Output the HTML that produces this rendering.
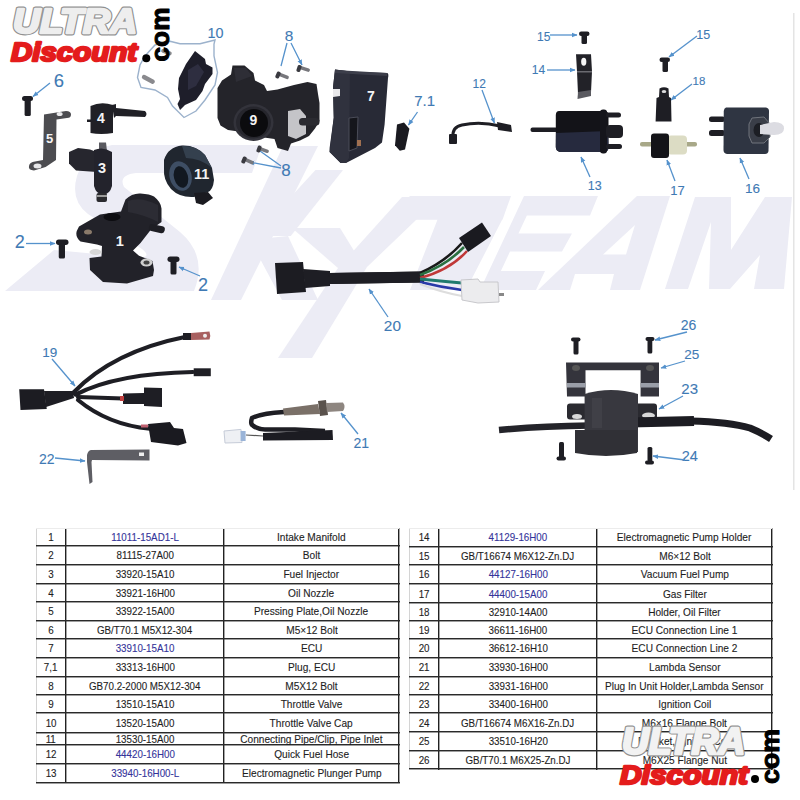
<!DOCTYPE html>
<html><head><meta charset="utf-8"><style>
html,body{margin:0;padding:0;background:#fff;width:800px;height:800px;overflow:hidden}
body{position:relative;font-family:"Liberation Sans",sans-serif}
.vl{position:absolute;width:1px;background:#222;box-shadow:1px 0 0 rgba(30,30,30,0.4)}
.hl{position:absolute;height:1px;background:#2a2a2a;box-shadow:0 1px 0 rgba(40,40,40,0.45)}
.lt{background:#d4d4d4;box-shadow:none}
.vl.lt{width:1px}
.hl.lt{height:1px;background:#ececec}
.tc span{display:inline-block;transform:scaleX(0.89)}
.tc.d span{transform:scaleX(0.92)}
.tc{position:absolute;text-align:center;font-size:11px;color:#1e1e1e;white-space:nowrap;-webkit-text-stroke:0.12px #1e1e1e}
.blue{color:#34349a;-webkit-text-stroke:0.12px #34349a}
svg{position:absolute;left:0;top:0}
</style></head><body>
<svg width="800" height="520" viewBox="0 0 800 520">
<defs>
<linearGradient id="gm" x1="0" y1="0" x2="0" y2="1"><stop offset="0" stop-color="#3a3a42"/><stop offset="1" stop-color="#141418"/></linearGradient>
<marker id="ah" viewBox="0 0 10 10" refX="9" refY="5" markerWidth="4.5" markerHeight="4.5" orient="auto"><path d="M0 1 L10 5 L0 9 Z" fill="#5592cc"/></marker>
</defs>
<!-- watermark -->
<g fill="#ececf5">
<path d="M112 145 L262 145 L252 173 L136 173 Q118 175 124 187 L180 232 Q208 256 194 291 L5 291 L54 250 L140 258 Q152 257 142 249 L88 214 Q70 200 77 176 Q86 150 112 145 Z"/>
<path d="M283 146 L318 146 L241 300 L211 300 Z"/>
<path d="M315.5 170 L343 170 L290.75 236 L255 236 Z"/>
<path d="M250 240 L288 236 L318 300 L282 300 Z"/>
<path d="M292 228 L340 228 L364 267 L338 268 Z"/>
<path d="M402 197 L440 197 L367 267 L312 358 L278 358 L338 268 Z"/>
<path d="M409.75 196 L511 196 L502.5 219.75 L395.75 219.75 Z M437.75 219 L502.5 219 L466 290 L410 290 Z"/>
<path d="M524 196 L598 196 L590 215.5 L515 215.5 Z M507 233.5 L572 233.5 L562 251.5 L499 251.5 Z M490 271 L545 271 L536 290 L480 290 Z M524 196 L536 196 L492 290 L480 290 Z"/>
<path d="M538 290 L637 196 L670 196 L640 290 L610 290 L614 274 L575 274 L570 290 Z M603 254.5 L626 254.5 L635 225 Z" fill-rule="evenodd"/>
<path d="M665 289 L695 197 L731 197 L731 250 L765 197 L792 197 L784 289 L754 289 L760 255 L730 289 Z M711 222 L709 289 L688 289 Z" fill-rule="evenodd"/>
</g>
<!-- right light border -->
<rect x="793" y="13" width="1.5" height="477" fill="#e4e4e4"/>

<!-- labels -->
<g font-family="Liberation Sans" fill="#3f7ab4" stroke="#3f7ab4" stroke-width="0.1" text-anchor="middle">
<text x="58.8" y="86.5" font-size="18.5">6</text>
<text x="215.5" y="37.5" font-size="14.4">10</text>
<text x="289.1" y="40.9" font-size="15.4">8</text>
<text x="286.0" y="175.6" font-size="17">8</text>
<text x="19.8" y="248.3" font-size="18">2</text>
<text x="202.9" y="290.9" font-size="18">2</text>
<text x="424.7" y="105.7" font-size="15">7.1</text>
<text x="479.2" y="87.9" font-size="12">12</text>
<text x="543.8" y="41.3" font-size="12">15</text>
<text x="538.5" y="74.0" font-size="12">14</text>
<text x="594.8" y="190.3" font-size="12.5">13</text>
<text x="703.2" y="39.3" font-size="12.5">15</text>
<text x="699.0" y="84.5" font-size="11.5">18</text>
<text x="677.5" y="194.8" font-size="13">17</text>
<text x="752.5" y="193.1" font-size="13.5">16</text>
<text x="392.4" y="331.3" font-size="15.4">20</text>
<text x="49.7" y="357.3" font-size="13.5">19</text>
<text x="46.8" y="463.9" font-size="14">22</text>
<text x="361.3" y="447.9" font-size="14">21</text>
<text x="688.5" y="330.3" font-size="14">26</text>
<text x="691.7" y="359.0" font-size="13.5">25</text>
<text x="689.7" y="394.0" font-size="15">23</text>
<text x="689.7" y="461.3" font-size="14.5">24</text>
</g>
<!-- leader lines -->
<g stroke="#5592cc" stroke-width="1.3" fill="none" marker-end="url(#ah)">
<path d="M50 83 L33 96.5"/>
<path d="M26 243.5 L55 243.5"/>
<path d="M200 276 L179 267"/>
<path d="M287 43 L281 66 M291 43 L302 65"/>
<path d="M281 166 L260 151 M281 168 L249 162"/>
<path d="M417.5 112 L408.5 125"/>
<path d="M482 90 L494.4 123"/>
<path d="M550 35 L577 35"/>
<path d="M547 70 L575 70"/>
<path d="M590 177 L581 157"/>
<path d="M697 36 L669 57"/>
<path d="M692 84 L671 100"/>
<path d="M675 181 L667 160"/>
<path d="M749 179 L740 158"/>
<path d="M388 317 L369 289"/>
<path d="M52 359 L75 386"/>
<path d="M55 458 L85 461"/>
<path d="M358 434 L341 413"/>
<path d="M687 332 L655 340"/>
<path d="M685 361 L661 368"/>
<path d="M683 396 L659 409"/>
<path d="M685 460 L653 456"/>
</g>
<!-- outline of 10 -->
<path d="M215 40 L214 44 Q214 50 214 56 L217.5 72.5 L215 85 L205 100 L196 111 L184 117.5 L172.5 106 L167.5 97.5 L155 90 L141 87.5 L137.5 77.5 L140 65 L145 56 L155 45 L170 41.25 L180 43.75 L200 43.75 Z" fill="none" stroke="#9cb2cc" stroke-width="1.4"/>

<!-- PARTS -->
<g fill="#1e1e24">
<!-- 6 bolt -->
<rect x="22" y="96" width="11" height="5" rx="2.5"/><rect x="24.6" y="99" width="6.2" height="17" rx="1.5"/>
<!-- 5 bracket -->
<path d="M44 114.5 L66 111 Q71 111 71 114.5 Q71 118 67 118 L56.5 119.5 L56 160 L45.6 167 L34 170.5 Q28 170 29 166 Q29.5 162 35 161.5 L43 160 Z" fill="#4c4c50"/>
<ellipse cx="59.6" cy="114" rx="3" ry="2" fill="#e8e8ea"/>
<ellipse cx="37.5" cy="166" rx="4" ry="2.5" fill="#e8e8ea"/>
<!-- 4 nozzle -->
<path d="M90.5 106 Q101 101 113 105 L113 133 Q101 135 90.5 133 Z" fill="#202026"/>
<path d="M112 105 L116 104 L116 108 L145 111 Q148 114 145 117 L116 116 L114 118 Z" fill="#202026"/>
<rect x="87" y="119.5" width="4" height="2.5"/>
<!-- 3 injector -->
<path d="M69 152 L78 148 L90 149.5 L94 151 L97 172 L76 170.5 L69 163.5 Z" fill="#26262e"/>
<path d="M99 142.5 L106 142.5 L107 151 L99 151 Z" fill="#5a5a60"/>
<path d="M94 150 Q103 146 112 152 L112 186 Q110 194 103 195 Q96 194 94 186 Z" fill="#23232c"/>
<rect x="96.5" y="193" width="10.5" height="9" rx="2" fill="#2a2a2e"/>
<rect x="96.5" y="195" width="10.5" height="2" fill="#9a9a9a"/>
<!-- 1 manifold -->
<path d="M125.5 199.5 Q132 193 140.5 193.5 Q150 194 154 196.5 Q161 202 161.5 208.5 L161.5 222 L151 229.5 L140.5 243 L133 250.5 L139 255.75 L152.5 261 L154 270 L153 276 L127 283.5 L103 282 L90 270 L89.5 258 L101.5 256.5 L102 246 L97 244.5 L80.5 241.5 Q75 237 76.75 231 L79 226.5 L100 214.5 L121 211.5 Z" fill="#222229"/>
<path d="M128 201 Q140 196 158 205 L158 222 Q145 215 128 212 Z" fill="#2c2c34"/>
<ellipse cx="112" cy="217" rx="8.5" ry="4" fill="#0c0c10"/>
<rect x="149" y="225" width="16" height="7" rx="3" transform="rotate(12 156 228)"/>
<ellipse cx="95.5" cy="252" rx="6" ry="3" fill="#d6d6d6"/>
<ellipse cx="146.5" cy="262.5" rx="6" ry="4" fill="#cfcfcf"/>
<ellipse cx="146.5" cy="262.5" rx="3" ry="2" fill="#444"/>
<ellipse cx="88" cy="232" rx="4" ry="2.5" fill="#8a7a6a"/>
<!-- 2 bolts -->
<rect x="56" y="239.5" width="12.5" height="5.5" rx="2.7"/><rect x="58.75" y="243" width="6.25" height="15.5" rx="1.5"/>
<rect x="167.5" y="256.5" width="12" height="5.5" rx="2.7"/><rect x="170.5" y="260" width="6" height="14.5" rx="1.5"/>
<!-- 10 cap -->
<path d="M195 51 L205 59 L206 64 L212.5 67.5 L212.5 74 L205 84 L202.5 91 L196 100 L185 105 L180 110 L177.5 104 L180 99 L178 89 L179 78 L186 64 Z" fill="#1e1e2a"/>
<path d="M188 70 L198 64 L204 72 L196 86 L188 90 Z" fill="#2e2e40"/>
<rect x="141" y="77" width="14" height="4.5" rx="2" transform="rotate(28 148 80)" fill="#8a8a8e"/>
<rect x="161" y="50" width="11" height="4" rx="2" transform="rotate(20 166 52)" fill="#8a8a8e"/>
<!-- 9 throttle body -->
<path d="M232.5 65.5 L244.5 65.5 L253.5 73 L255 80.5 L264 85 L267 91 L277.5 89.5 L294 85 L307.5 82 L316.5 84 L318 94 L319.5 103 L319.5 121 L315 128.5 L309 136 L300 140.5 L291 143.5 L288 151 L277.5 148 L274.5 139 L264 137.5 L249 137.5 L238.5 131.5 L228 130 L220.5 125.5 L217.5 118 L217.5 97 L217.5 88 L222 80.5 L231 74.5 Z" fill="#24242a"/>
<path d="M234 68 L246 68 L252 76 L236 82 Z" fill="#2e2e36"/>
<ellipse cx="253.5" cy="122.5" rx="20" ry="18.5" fill="#33333b"/>
<ellipse cx="253.5" cy="122.5" rx="17.5" ry="16" fill="#26262d"/>
<ellipse cx="254" cy="123" rx="14" ry="14" fill="#0b0b0e"/>
<path d="M288 111 L300 109 L306 116 L306 134 L296 139 L288 136 Z" fill="#c4c4c8"/>
<rect x="299" y="118" width="20.5" height="7.5" rx="3.5" fill="#2a2a30"/>
<!-- 11 ring -->
<path d="M164 160 Q168 147 182 145.5 Q196 145 205 155 L212 168 L214 180 Q213 190 208 192 L194 197 Q180 198 171 189 Q163 180 164 168 Z" fill="#20262f"/>
<path d="M182 146 Q196 145 205 155 L212 168 Q200 158 186 158 Z" fill="#34404e"/>
<ellipse cx="180.5" cy="176" rx="11" ry="15" transform="rotate(-15 180.5 176)" fill="#3e4e64"/>
<ellipse cx="181" cy="177" rx="7" ry="11" transform="rotate(-15 181 177)" fill="#121820"/>
<path d="M194 193 L208 192 L213 198 L203 205 L196 203 Z" fill="#1a1a20"/>
<!-- bolts 8 -->
<g fill="#77777c">
<rect x="277" y="74" width="12" height="3.5" rx="1.5" transform="rotate(22 283 76)"/>
<rect x="298" y="67" width="12" height="3.5" rx="1.5" transform="rotate(18 304 69)"/>
<rect x="258" y="148" width="11" height="3.5" rx="1.5" transform="rotate(20 263 150)"/>
<rect x="243" y="159" width="11" height="3.5" rx="1.5" transform="rotate(24 248 161)"/>
</g>
<g fill="#3a3a40">
<rect x="276" y="71.5" width="4" height="7" rx="1.5" transform="rotate(22 278 75)"/>
<rect x="297" y="65" width="4" height="7" rx="1.5" transform="rotate(18 299 68.5)"/>
<rect x="257" y="145.5" width="4" height="7" rx="1.5" transform="rotate(20 259 149)"/>
<rect x="242" y="156.5" width="4" height="7" rx="1.5" transform="rotate(24 244 160)"/>
</g>
<!-- 7 ECU -->
<path d="M335 69.6 L353 71.7 L387.4 73 Q389 74 388 78 L384.6 124.6 L382 142.5 L375 148 L346 163 L340.6 163 L329.6 152 L329.6 148 L333.75 117.8 L333 87.5 Z" fill="#282a36"/>
<path d="M335 69.6 L350 71.5 L349 158 L346 163 L340.6 163 L329.6 152 L333.75 117.8 L333 87.5 Z" fill="#30323e"/>
<path d="M335 70 L387 73 L387 76 L335 73 Z" fill="#3c3e4a"/>
<path d="M333 89 L340 89 L340 96 L333 97 Z" fill="#e8e8ea"/>
<path d="M349 118 L358 117 L357 148 L349 151 Z" fill="#15161c" stroke="#4a4c58" stroke-width="1"/>
<rect x="357" y="140" width="4" height="6" fill="#a07050"/>
<!-- 7.1 plug -->
<path d="M397 124.6 L404 122.6 L409.4 128.8 L405 149.4 L399.8 150.8 L395 145.3 Z" fill="#1a1a20"/>
<!-- 12 hose -->
<path d="M453 137 Q452 127 462 125 Q480 121 500 126" fill="none" stroke="#1e1e24" stroke-width="3"/>
<path d="M497 122 L511 125 L512 132 L498 130 Z"/>
<rect x="449" y="134" width="8" height="10" rx="1"/>
<!-- 13 pump -->
<rect x="530.5" y="127.5" width="27" height="4.5" rx="2"/>
<path d="M559 111 L606 111 Q608.5 112 608.5 115 L608.5 148 Q608 152 604 152 L560 152 Q555.8 151 555.8 147 L555.8 115 Q556 111 559 111 Z" fill="#131318"/>
<path d="M556 133 L608 131 L608.5 148 Q608 152 604 152 L560 152 Q555.8 151 555.8 147 Z" fill="#262a3e"/>
<rect x="600" y="109.5" width="7" height="44" rx="3" fill="#15151b"/>
<rect x="606" y="112.5" width="15" height="5" rx="2.5"/>
<rect x="606" y="125" width="17" height="13" rx="4"/>
<rect x="606" y="144" width="16" height="5" rx="2.5"/>
<!-- 14 bracket -->
<path d="M576 54.25 L591 54.25 L592 71.5 L591 92 L578 94 L577 71.5 Z" fill="#222228"/>
<path d="M578 92 L591 90 L591 96 L577.5 99 Z" fill="#5a5a60"/>
<rect x="577" y="71" width="15" height="1.5" fill="#6a6a70"/>
<ellipse cx="583.75" cy="61.75" rx="2.6" ry="4" fill="#f4f4f4"/>
<!-- 15 bolts -->
<rect x="579" y="31.5" width="10.5" height="4.5" rx="2.2"/><rect x="581.5" y="34" width="5.5" height="10" rx="1.5"/>
<rect x="659.5" y="57.5" width="10.5" height="4.5" rx="2.2"/><rect x="662.5" y="60" width="5.5" height="12" rx="1.5"/>
<!-- 18 holder -->
<path d="M659.5 88.5 Q664 86 668.5 88.5 L669 97 L671 98 L671.5 121.5 L655.6 121.5 L656.5 98 L659 97 Z"/>
<ellipse cx="664" cy="91.5" rx="2.3" ry="1.6" fill="#ddd"/>
<!-- 17 filter -->
<rect x="640" y="142" width="57" height="4.5" rx="2" fill="#a8a888"/>
<rect x="667" y="135.5" width="20" height="19" rx="4" fill="#dcdcc4"/>
<rect x="651" y="133.5" width="18" height="24.5" rx="3" fill="#141418"/>
<!-- 16 vacuum pump -->
<rect x="709" y="116.5" width="16" height="5.5" rx="2.5"/>
<rect x="709" y="130" width="16" height="6" rx="2.5"/>
<path d="M726 107.5 L766 107.5 Q769 108 769 111 L768.5 151 Q768 154 765 154 L727 154 Q723.5 153.5 723.5 150 L723.75 111 Q724 108 726 107.5 Z" fill="#2f3542"/>
<path d="M752 118 L764 117 L770 124 L770 137 L764 143 L752 143 L749 136 L749 124 Z" fill="#3a3e48" stroke="#70747c" stroke-width="1"/>
<ellipse cx="759" cy="130" rx="5.5" ry="7" fill="#1c1e24"/>
<path d="M760 125 L774 122 Q784 122 784 128.5 Q784 135 774 135 L760 134 Z" fill="#dcdce2"/>
<!-- 20 harness -->
<path d="M275 263 L303 262 L306 292 L277 294 Z" fill="#1c1c22"/>
<path d="M303 269 L330 271 L330 286 L305 288 Z"/>
<path d="M329 278.5 L420 277" stroke="#1e1e24" stroke-width="11" fill="none"/>
<path d="M330 278.5 L424 277" stroke="#1e1e24" stroke-width="11" fill="none"/>
<path d="M420 273 Q445 262 462 243" stroke="#1a1a1a" stroke-width="2.6" fill="none"/>
<path d="M420 275 Q447 265 464 247" stroke="#2a7040" stroke-width="2.6" fill="none"/>
<path d="M420 278 Q450 270 467 251" stroke="#c03838" stroke-width="2.6" fill="none"/>
<path d="M420 279 Q440 281 462 283" stroke="#1f7a6e" stroke-width="2.8" fill="none"/>
<path d="M420 282 Q440 287 462 290" stroke="#2a3aa8" stroke-width="2.6" fill="none"/>
<path d="M420 284 Q440 292 462 296" stroke="#ddd" stroke-width="2" fill="none"/>
<path d="M459 238 L482 222.5 L491 236 L468 252 Z" fill="#1a1a20"/>
<path d="M461 280 L478 279 L480 282 L498 282 L499 302 L478 303 L462 300 Z" fill="#ececee" stroke="#c8c8cc" stroke-width="1"/>
<rect x="499" y="293" width="5" height="3" fill="#888"/>
<!-- 19 harness -->
<path d="M19.2 389.3 L44 389.3 L46.75 409 L20.5 410 Z" fill="#1c1c22"/>
<path d="M44 391 L73 391 L74 398 L46 407 Z"/>
<g stroke="#1e1e24" stroke-width="4.2" fill="none" stroke-linecap="round">
<path d="M73 393 C95 370 130 348 186 336.8"/>
<path d="M75.6 394.6 C100 382 135 373 193 372"/>
<path d="M78 397 L123 398.5"/>
<path d="M78 400 C95 414 120 426 150 428.7"/>
</g>
<rect x="183" y="333" width="8" height="7" fill="#1e1e24"/>
<path d="M191 333 L209.5 331.5 Q211 336 209.5 339.4 L191 340 Z" fill="#a86060"/>
<circle cx="205" cy="335.7" r="2" fill="#eee"/>
<path d="M193.7 368.3 L210.8 368.3 L210.8 376.2 L193.7 376.2 Z"/>
<path d="M123 393.5 L144 393 L144 387.5 L162 388 L162 407 L144 406 L144 404 L123 404 Z" fill="#1e1e24"/>
<rect x="120" y="396" width="4" height="5" fill="#c04040"/>
<path d="M148 424 L170 422 L174 428 L183 429 L186.5 443 L178 445.5 L151 442 Z" fill="#1a1a20"/>
<rect x="141" y="424.5" width="7" height="3" fill="#c06070"/>
<!-- 22 bracket -->
<path d="M91 450 L149.5 449.5 L149.5 460.5 L92 460 L91.5 462 L92.5 482 L89.5 484 L87 462 L87 455 Q88 450.5 91 450 Z" fill="#5e5e64"/>
<rect x="139" y="452.5" width="5" height="3.5" fill="#eee"/>
<!-- 21 lambda -->
<path d="M284 412 Q261 413.4 252 418 Q250 424 253 425.6 Q258 429.4 265 429.4 L295 429.4 L325 431" stroke="#1e1e24" stroke-width="4.5" fill="none"/>
<path d="M283 408.5 L318 404 L320 414 L284 415.5 Z" fill="#7a7068"/>
<path d="M318 401 L326 400 L328 415 L320 416 Z" fill="#5a524c"/>
<path d="M326 403 L343 402.5 Q346 406.5 343 411 L327 412 Z" fill="#8e8680"/>
<path d="M263 433 L332.5 430 L333 440 L263 440.6 Z" fill="#1c1c22"/>
<path d="M224 431 L241 429.4 L242 442.5 L225 443 Z" fill="#eef0f4" stroke="#c6ccd8" stroke-width="1"/>
<rect x="240.6" y="431" width="5" height="10" fill="#9ab4d8"/>
<path d="M246 435 L263 436" stroke="#555" stroke-width="1.2"/>
<!-- 23-26 coil -->
<rect x="571" y="337.5" width="9.5" height="4" rx="2"/><rect x="573.5" y="340" width="5" height="14.5" rx="1.5"/>
<rect x="645.5" y="337" width="9" height="4" rx="2"/><rect x="647.5" y="340" width="4.8" height="13.6" rx="1.5"/>
<path d="M566 362.4 L659 362.4 L659 396.5 L640.6 396.5 L640.6 370.25 L585.5 370.25 L585.5 396.5 L567 396.5 Z" fill="#34343c"/>
<rect x="567" y="383" width="18.5" height="4.5" fill="#9a9ea8"/>
<rect x="640.6" y="383" width="18.4" height="4.5" fill="#9a9ea8"/>
<ellipse cx="576" cy="368" rx="4" ry="3" fill="#555"/>
<ellipse cx="650" cy="368" rx="4" ry="3" fill="#555"/>
<rect x="567" y="403.5" width="90" height="16" rx="3" fill="#2a2a30"/>
<ellipse cx="577" cy="416.5" rx="5" ry="2.5" fill="#d8d8d8"/>
<ellipse cx="648.5" cy="415.5" rx="6.5" ry="3" fill="#d8d8d8"/>
<path d="M499 430 Q540 426 590 425.4" stroke="#24242a" stroke-width="6.5" fill="none"/>
<path d="M630 422.5 L694 421" stroke="#1c1c22" stroke-width="10" fill="none"/>
<path d="M690 421 Q730 422 750 428 Q762 433 771 439" stroke="#1c1c22" stroke-width="7" fill="none"/>
<path d="M584.6 394 Q611 386 638 394 L638 452 Q611 458 584.6 452 Z" fill="#38383f"/>
<rect x="592" y="398" width="10" height="30" fill="#44444c" opacity="0.7"/>
<path d="M575 430 L637 430 L637 453 Q606 459 575 453 Z" fill="#303036"/>
<rect x="556.5" y="456.5" width="9.5" height="4" rx="2"/><rect x="559" y="442" width="5" height="16" rx="1.5"/>
<rect x="645" y="460.5" width="9" height="4" rx="2"/><rect x="647.5" y="447" width="4.8" height="14.5" rx="1.5"/>
</g>
<!-- white part numbers -->
<g font-family="Liberation Sans" font-weight="bold" fill="#f4f4f4" text-anchor="middle">
<text x="49.5" y="142.5" font-size="13">5</text>
<text x="101" y="123.3" font-size="14">4</text>
<text x="102" y="173" font-size="14.5">3</text>
<text x="119.75" y="246" font-size="14.5">1</text>
<text x="253.5" y="125" font-size="14">9</text>
<text x="201.6" y="178.8" font-size="14.5">11</text>
<text x="371" y="101.3" font-size="14">7</text>
</g>

<!-- top-left logo -->
<g font-family="Liberation Sans" font-weight="bold" font-style="italic" stroke-linejoin="round">
<text x="13" y="32.5" font-size="35" fill="#909090" stroke="#909090" stroke-width="4.8" textLength="124" lengthAdjust="spacingAndGlyphs">ULTRA</text>
<text x="13" y="32.5" font-size="35" fill="#eeeeee" stroke="#eeeeee" stroke-width="2.6" textLength="124" lengthAdjust="spacingAndGlyphs">ULTRA</text>
<text x="11" y="61" font-size="26" fill="#e41c1c" stroke="#e41c1c" stroke-width="2.4" textLength="126" lengthAdjust="spacingAndGlyphs">Discount</text>
<circle cx="146.3" cy="58.2" r="4" fill="#000"/>
<text transform="translate(168.5 61.5) rotate(-90)" font-size="25" fill="#000" stroke="#000" stroke-width="1" font-style="normal" textLength="54" lengthAdjust="spacingAndGlyphs">com</text>
</g>
</svg>

<div class="vl lt" style="left:35.5px;top:528px;height:254.5px"></div>
<div class="vl" style="left:65px;top:528px;height:255px"></div>
<div class="vl" style="left:223px;top:528px;height:255px"></div>
<div class="vl" style="left:398px;top:528px;height:255px"></div>
<div class="hl lt" style="left:36px;top:527.5px;width:363px"></div>
<div class="hl" style="left:36px;top:545px;width:364px"></div>
<div class="hl" style="left:36px;top:564px;width:364px"></div>
<div class="hl" style="left:36px;top:583px;width:364px"></div>
<div class="hl" style="left:36px;top:601px;width:364px"></div>
<div class="hl" style="left:36px;top:620px;width:364px"></div>
<div class="hl" style="left:36px;top:638px;width:364px"></div>
<div class="hl" style="left:36px;top:657px;width:364px"></div>
<div class="hl" style="left:36px;top:676px;width:364px"></div>
<div class="hl" style="left:36px;top:694px;width:364px"></div>
<div class="hl" style="left:36px;top:712px;width:364px"></div>
<div class="hl" style="left:36px;top:732px;width:364px"></div>
<div class="hl" style="left:36px;top:744px;width:364px"></div>
<div class="hl" style="left:36px;top:763px;width:364px"></div>
<div class="hl" style="left:36px;top:782px;width:364px"></div>
<div class="tc" style="left:36px;top:528px;width:30px;height:18.399999999999977px;line-height:19.399999999999977px"><span>1</span></div>
<div class="tc blue" style="left:66px;top:528px;width:158px;height:18.399999999999977px;line-height:19.399999999999977px"><span>11011-15AD1-L</span></div>
<div class="tc d" style="left:224px;top:528px;width:175px;height:18.399999999999977px;line-height:19.399999999999977px"><span>Intake Manifold</span></div>
<div class="tc" style="left:36px;top:546.4px;width:30px;height:18.600000000000023px;line-height:19.600000000000023px"><span>2</span></div>
<div class="tc" style="left:66px;top:546.4px;width:158px;height:18.600000000000023px;line-height:19.600000000000023px"><span>81115-27A00</span></div>
<div class="tc d" style="left:224px;top:546.4px;width:175px;height:18.600000000000023px;line-height:19.600000000000023px"><span>Bolt</span></div>
<div class="tc" style="left:36px;top:565px;width:30px;height:18.5px;line-height:19.5px"><span>3</span></div>
<div class="tc" style="left:66px;top:565px;width:158px;height:18.5px;line-height:19.5px"><span>33920-15A10</span></div>
<div class="tc d" style="left:224px;top:565px;width:175px;height:18.5px;line-height:19.5px"><span>Fuel Injector</span></div>
<div class="tc" style="left:36px;top:583.5px;width:30px;height:18.700000000000045px;line-height:19.700000000000045px"><span>4</span></div>
<div class="tc" style="left:66px;top:583.5px;width:158px;height:18.700000000000045px;line-height:19.700000000000045px"><span>33921-16H00</span></div>
<div class="tc d" style="left:224px;top:583.5px;width:175px;height:18.700000000000045px;line-height:19.700000000000045px"><span>Oil Nozzle</span></div>
<div class="tc" style="left:36px;top:602.2px;width:30px;height:18.399999999999977px;line-height:19.399999999999977px"><span>5</span></div>
<div class="tc" style="left:66px;top:602.2px;width:158px;height:18.399999999999977px;line-height:19.399999999999977px"><span>33922-15A00</span></div>
<div class="tc d" style="left:224px;top:602.2px;width:175px;height:18.399999999999977px;line-height:19.399999999999977px"><span>Pressing Plate,Oil Nozzle</span></div>
<div class="tc" style="left:36px;top:620.6px;width:30px;height:18.799999999999955px;line-height:19.799999999999955px"><span>6</span></div>
<div class="tc" style="left:66px;top:620.6px;width:158px;height:18.799999999999955px;line-height:19.799999999999955px"><span>GB/T70.1 M5X12-304</span></div>
<div class="tc d" style="left:224px;top:620.6px;width:175px;height:18.799999999999955px;line-height:19.799999999999955px"><span>M5×12 Bolt</span></div>
<div class="tc" style="left:36px;top:639.4px;width:30px;height:18.399999999999977px;line-height:19.399999999999977px"><span>7</span></div>
<div class="tc blue" style="left:66px;top:639.4px;width:158px;height:18.399999999999977px;line-height:19.399999999999977px"><span>33910-15A10</span></div>
<div class="tc d" style="left:224px;top:639.4px;width:175px;height:18.399999999999977px;line-height:19.399999999999977px"><span>ECU</span></div>
<div class="tc" style="left:36px;top:657.8px;width:30px;height:18.700000000000045px;line-height:19.700000000000045px"><span>7,1</span></div>
<div class="tc" style="left:66px;top:657.8px;width:158px;height:18.700000000000045px;line-height:19.700000000000045px"><span>33313-16H00</span></div>
<div class="tc d" style="left:224px;top:657.8px;width:175px;height:18.700000000000045px;line-height:19.700000000000045px"><span>Plug, ECU</span></div>
<div class="tc" style="left:36px;top:676.5px;width:30px;height:18.5px;line-height:19.5px"><span>8</span></div>
<div class="tc" style="left:66px;top:676.5px;width:158px;height:18.5px;line-height:19.5px"><span>GB70.2-2000 M5X12-304</span></div>
<div class="tc d" style="left:224px;top:676.5px;width:175px;height:18.5px;line-height:19.5px"><span>M5X12 Bolt</span></div>
<div class="tc" style="left:36px;top:695px;width:30px;height:18.399999999999977px;line-height:19.399999999999977px"><span>9</span></div>
<div class="tc" style="left:66px;top:695px;width:158px;height:18.399999999999977px;line-height:19.399999999999977px"><span>13510-15A10</span></div>
<div class="tc d" style="left:224px;top:695px;width:175px;height:18.399999999999977px;line-height:19.399999999999977px"><span>Throttle Valve</span></div>
<div class="tc" style="left:36px;top:713.4px;width:30px;height:19.100000000000023px;line-height:20.100000000000023px"><span>10</span></div>
<div class="tc" style="left:66px;top:713.4px;width:158px;height:19.100000000000023px;line-height:20.100000000000023px"><span>13520-15A00</span></div>
<div class="tc d" style="left:224px;top:713.4px;width:175px;height:19.100000000000023px;line-height:20.100000000000023px"><span>Throttle Valve Cap</span></div>
<div class="tc" style="left:36px;top:732.5px;width:30px;height:12.5px;line-height:13.5px"><span>11</span></div>
<div class="tc" style="left:66px;top:732.5px;width:158px;height:12.5px;line-height:13.5px"><span>13530-15A00</span></div>
<div class="tc d" style="left:224px;top:732.5px;width:175px;height:12.5px;line-height:13.5px"><span>Connecting Pipe/Clip, Pipe Inlet</span></div>
<div class="tc" style="left:36px;top:745px;width:30px;height:18.75px;line-height:19.75px"><span>12</span></div>
<div class="tc blue" style="left:66px;top:745px;width:158px;height:18.75px;line-height:19.75px"><span>44420-16H00</span></div>
<div class="tc d" style="left:224px;top:745px;width:175px;height:18.75px;line-height:19.75px"><span>Quick Fuel Hose</span></div>
<div class="tc" style="left:36px;top:763.75px;width:30px;height:18.75px;line-height:19.75px"><span>13</span></div>
<div class="tc blue" style="left:66px;top:763.75px;width:158px;height:18.75px;line-height:19.75px"><span>33940-16H00-L</span></div>
<div class="tc d" style="left:224px;top:763.75px;width:175px;height:18.75px;line-height:19.75px"><span>Electromagnetic Plunger Pump</span></div>
<div class="vl lt" style="left:408.5px;top:528px;height:241.10000000000002px"></div>
<div class="vl" style="left:438px;top:528px;height:242px"></div>
<div class="vl" style="left:596px;top:528px;height:242px"></div>
<div class="vl" style="left:771px;top:528px;height:242px"></div>
<div class="hl lt" style="left:409px;top:527.5px;width:363px"></div>
<div class="hl" style="left:409px;top:546px;width:364px"></div>
<div class="hl" style="left:409px;top:564px;width:364px"></div>
<div class="hl" style="left:409px;top:583px;width:364px"></div>
<div class="hl" style="left:409px;top:602px;width:364px"></div>
<div class="hl" style="left:409px;top:620px;width:364px"></div>
<div class="hl" style="left:409px;top:638px;width:364px"></div>
<div class="hl" style="left:409px;top:657px;width:364px"></div>
<div class="hl" style="left:409px;top:676px;width:364px"></div>
<div class="hl" style="left:409px;top:694px;width:364px"></div>
<div class="hl" style="left:409px;top:712px;width:364px"></div>
<div class="hl" style="left:409px;top:731px;width:364px"></div>
<div class="hl" style="left:409px;top:750px;width:364px"></div>
<div class="hl" style="left:409px;top:768px;width:364px"></div>
<div class="tc" style="left:409px;top:528px;width:30px;height:18.5px;line-height:19.5px"><span>14</span></div>
<div class="tc blue" style="left:439px;top:528px;width:158px;height:18.5px;line-height:19.5px"><span>41129-16H00</span></div>
<div class="tc d" style="left:597px;top:528px;width:175px;height:18.5px;line-height:19.5px"><span>Electromagnetic Pump Holder</span></div>
<div class="tc" style="left:409px;top:546.5px;width:30px;height:18.5px;line-height:19.5px"><span>15</span></div>
<div class="tc" style="left:439px;top:546.5px;width:158px;height:18.5px;line-height:19.5px"><span>GB/T16674 M6X12-Zn.DJ</span></div>
<div class="tc d" style="left:597px;top:546.5px;width:175px;height:18.5px;line-height:19.5px"><span>M6×12 Bolt</span></div>
<div class="tc" style="left:409px;top:565px;width:30px;height:18.5px;line-height:19.5px"><span>16</span></div>
<div class="tc blue" style="left:439px;top:565px;width:158px;height:18.5px;line-height:19.5px"><span>44127-16H00</span></div>
<div class="tc d" style="left:597px;top:565px;width:175px;height:18.5px;line-height:19.5px"><span>Vacuum Fuel Pump</span></div>
<div class="tc" style="left:409px;top:583.5px;width:30px;height:19.0px;line-height:20.0px"><span>17</span></div>
<div class="tc blue" style="left:439px;top:583.5px;width:158px;height:19.0px;line-height:20.0px"><span>44400-15A00</span></div>
<div class="tc d" style="left:597px;top:583.5px;width:175px;height:19.0px;line-height:20.0px"><span>Gas Filter</span></div>
<div class="tc" style="left:409px;top:602.5px;width:30px;height:18.100000000000023px;line-height:19.100000000000023px"><span>18</span></div>
<div class="tc" style="left:439px;top:602.5px;width:158px;height:18.100000000000023px;line-height:19.100000000000023px"><span>32910-14A00</span></div>
<div class="tc d" style="left:597px;top:602.5px;width:175px;height:18.100000000000023px;line-height:19.100000000000023px"><span>Holder, Oil Filter</span></div>
<div class="tc" style="left:409px;top:620.6px;width:30px;height:18.799999999999955px;line-height:19.799999999999955px"><span>19</span></div>
<div class="tc" style="left:439px;top:620.6px;width:158px;height:18.799999999999955px;line-height:19.799999999999955px"><span>36611-16H00</span></div>
<div class="tc d" style="left:597px;top:620.6px;width:175px;height:18.799999999999955px;line-height:19.799999999999955px"><span>ECU Connection Line 1</span></div>
<div class="tc" style="left:409px;top:639.4px;width:30px;height:18.350000000000023px;line-height:19.350000000000023px"><span>20</span></div>
<div class="tc" style="left:439px;top:639.4px;width:158px;height:18.350000000000023px;line-height:19.350000000000023px"><span>36612-16H10</span></div>
<div class="tc d" style="left:597px;top:639.4px;width:175px;height:18.350000000000023px;line-height:19.350000000000023px"><span>ECU Connection Line 2</span></div>
<div class="tc" style="left:409px;top:657.75px;width:30px;height:18.75px;line-height:19.75px"><span>21</span></div>
<div class="tc" style="left:439px;top:657.75px;width:158px;height:18.75px;line-height:19.75px"><span>33930-16H00</span></div>
<div class="tc d" style="left:597px;top:657.75px;width:175px;height:18.75px;line-height:19.75px"><span>Lambda Sensor</span></div>
<div class="tc" style="left:409px;top:676.5px;width:30px;height:18.75px;line-height:19.75px"><span>22</span></div>
<div class="tc" style="left:439px;top:676.5px;width:158px;height:18.75px;line-height:19.75px"><span>33931-16H00</span></div>
<div class="tc d" style="left:597px;top:676.5px;width:175px;height:18.75px;line-height:19.75px"><span>Plug In Unit Holder,Lambda Sensor</span></div>
<div class="tc" style="left:409px;top:695.25px;width:30px;height:17.75px;line-height:18.75px"><span>23</span></div>
<div class="tc" style="left:439px;top:695.25px;width:158px;height:17.75px;line-height:18.75px"><span>33400-16H00</span></div>
<div class="tc d" style="left:597px;top:695.25px;width:175px;height:17.75px;line-height:18.75px"><span>Ignition Coil</span></div>
<div class="tc" style="left:409px;top:713px;width:30px;height:19px;line-height:20px"><span>24</span></div>
<div class="tc" style="left:439px;top:713px;width:158px;height:19px;line-height:20px"><span>GB/T16674 M6X16-Zn.DJ</span></div>
<div class="tc d" style="left:597px;top:713px;width:175px;height:19px;line-height:20px"><span>M6×16 Flange Bolt</span></div>
<div class="tc" style="left:409px;top:732px;width:30px;height:18.600000000000023px;line-height:19.600000000000023px"><span>25</span></div>
<div class="tc" style="left:439px;top:732px;width:158px;height:18.600000000000023px;line-height:19.600000000000023px"><span>33510-16H20</span></div>
<div class="tc d" style="left:597px;top:732px;width:175px;height:18.600000000000023px;line-height:19.600000000000023px"><span>Bracket, Ignition Coil</span></div>
<div class="tc" style="left:409px;top:750.6px;width:30px;height:18.5px;line-height:19.5px"><span>26</span></div>
<div class="tc" style="left:439px;top:750.6px;width:158px;height:18.5px;line-height:19.5px"><span>GB/T70.1 M6X25-Zn.DJ</span></div>
<div class="tc d" style="left:597px;top:750.6px;width:175px;height:18.5px;line-height:19.5px"><span>M6X25 Flange Nut</span></div>
<svg width="800" height="800" viewBox="0 0 800 800" style="position:absolute;left:0;top:0">
<g font-family="Liberation Sans" font-weight="bold" font-style="italic" stroke-linejoin="round">
<text x="622" y="754" font-size="36" fill="#909090" stroke="#909090" stroke-width="4.8" textLength="123" lengthAdjust="spacingAndGlyphs">ULTRA</text>
<text x="622" y="754" font-size="36" fill="#f2f2f2" stroke="#f2f2f2" stroke-width="2.6" textLength="123" lengthAdjust="spacingAndGlyphs">ULTRA</text>
<text x="620" y="784" font-size="26" fill="#e41c1c" stroke="#e41c1c" stroke-width="2.4" textLength="128" lengthAdjust="spacingAndGlyphs">Discount</text>
<circle cx="755" cy="779" r="4" fill="#000"/>
<text transform="translate(779 784) rotate(-90)" font-size="25" fill="#000" stroke="#000" stroke-width="1" font-style="normal" textLength="55" lengthAdjust="spacingAndGlyphs">com</text>
</g>
</svg>
</body></html>
